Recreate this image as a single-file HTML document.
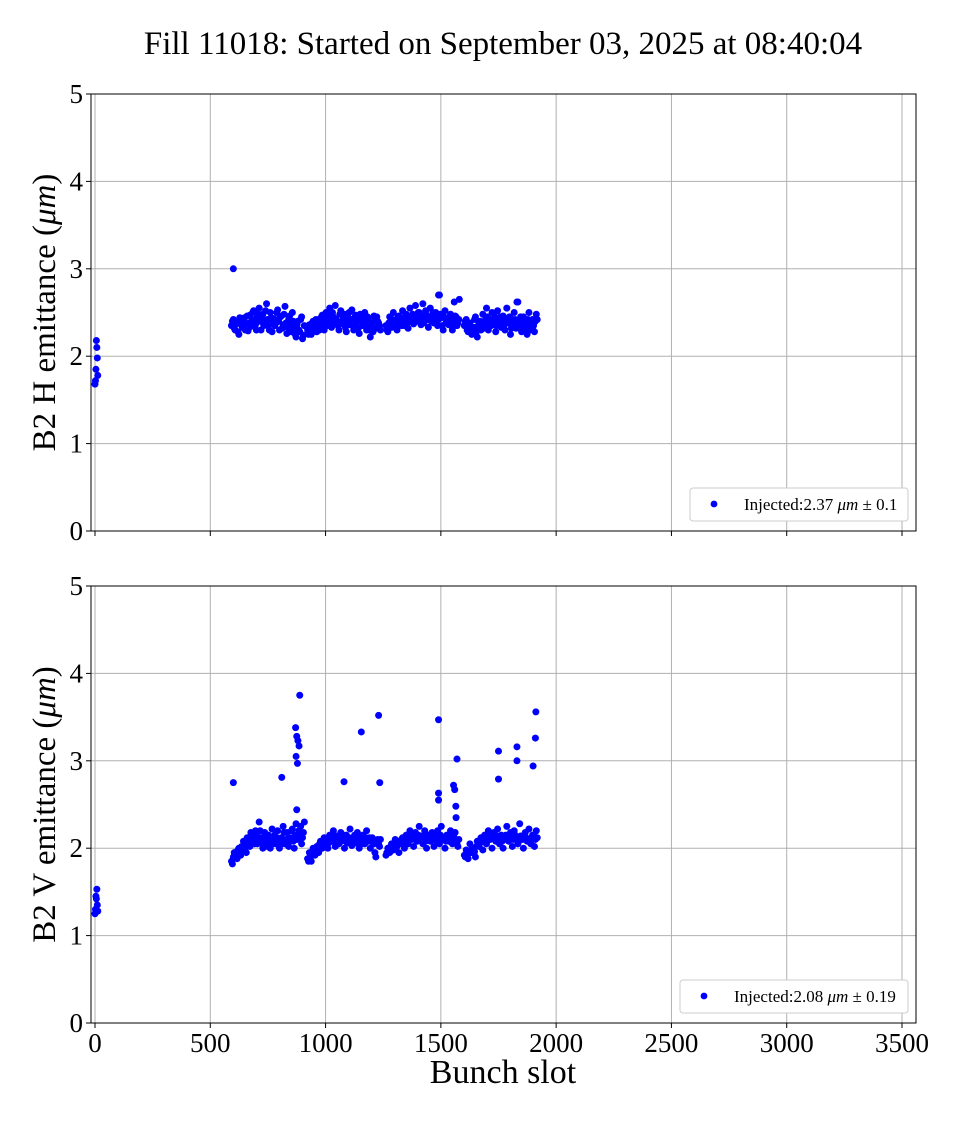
<!DOCTYPE html>
<html><head><meta charset="utf-8"><style>
body{margin:0;background:#fff}
svg text{font-family:"Liberation Serif",serif;fill:#000}
</style></head><body>
<svg id="chart" width="960" height="1120">
<text x="503" y="54" font-size="33" text-anchor="middle">Fill 11018: Started on September 03, 2025 at 08:40:04</text>
<g id="top"></g>
<g id="bot"></g>
<text x="503" y="1083" font-size="34" text-anchor="middle">Bunch slot</text>
</svg>
<script>
const xTicks=[0,500,1000,1500,2000,2500,3000,3500];
const yTicks=[0,1,2,3,4,5];
const trainStarts=[592,922,1262,1602];
const trainStep=8;
const hTrain1=[2.35,2.42,2.3,2.38,2.25,2.4,2.33,2.44,2.37,2.29,2.47,2.4,2.52,2.36,2.45,2.55,2.3,2.48,2.41,2.6,2.35,2.5,2.28,2.43,2.38,2.53,2.3,2.46,2.36,2.57,2.26,2.42,2.35,2.5,2.32,2.22,2.4,2.28,2.45,2.24];
const hTrain2=[2.3,2.36,2.25,2.4,2.33,2.28,2.42,2.35,2.47,2.3,2.5,2.38,2.55,2.33,2.45,2.58,2.4,2.3,2.52,2.37,2.48,2.28,2.44,2.36,2.53,2.3,2.47,2.4,2.26,2.45,2.35,2.5,2.3,2.42,2.22,2.38,2.46,2.32,2.4,2.35];
const hTrain3=[2.35,2.28,2.45,2.33,2.5,2.38,2.3,2.46,2.4,2.52,2.35,2.48,2.32,2.55,2.42,2.37,2.58,2.44,2.5,2.36,2.6,2.4,2.47,2.33,2.55,2.42,2.38,2.5,2.35,2.7,2.44,2.3,2.52,2.4,2.36,2.48,2.3,2.62,2.45,2.38];
const hTrain4=[2.35,2.42,2.28,2.38,2.25,2.33,2.45,2.22,2.38,2.3,2.48,2.35,2.55,2.3,2.42,2.5,2.36,2.28,2.52,2.4,2.33,2.46,2.3,2.55,2.38,2.25,2.42,2.5,2.32,2.62,2.36,2.28,2.45,2.38,2.25,2.5,2.32,2.42,2.28,2.48];
const hTrain1b=[2.4,2.32,2.37,2.28,2.44,2.35,2.4,2.3,2.46,2.38,2.34,2.5,2.42,2.3,2.48,2.4,2.45,2.35,2.52,2.42,2.3,2.44,2.38,2.35,2.5,2.4,2.45,2.32,2.48,2.38,2.33,2.46,2.28,2.4,2.25,2.36,2.3,2.42,2.2,2.35];
const hTrain2b=[2.25,2.32,2.38,2.3,2.42,2.35,2.3,2.45,2.38,2.42,2.35,2.46,2.4,2.5,2.38,2.42,2.35,2.48,2.4,2.45,2.33,2.4,2.5,2.42,2.35,2.44,2.38,2.32,2.48,2.4,2.44,2.36,2.45,2.3,2.35,2.28,2.4,2.45,2.38,2.3];
const hTrain3b=[2.3,2.38,2.35,2.42,2.4,2.32,2.45,2.38,2.35,2.44,2.42,2.38,2.46,2.4,2.48,2.45,2.4,2.5,2.42,2.46,2.38,2.52,2.42,2.45,2.4,2.5,2.45,2.4,2.42,2.48,2.35,2.45,2.38,2.42,2.45,2.35,2.4,2.46,2.35,2.42];
const hTrain4b=[2.4,2.3,2.35,2.32,2.3,2.42,2.28,2.35,2.4,2.36,2.32,2.42,2.45,2.38,2.35,2.42,2.45,2.35,2.4,2.45,2.38,2.35,2.42,2.4,2.45,2.32,2.38,2.42,2.4,2.35,2.45,2.4,2.32,2.35,2.42,2.3,2.38,2.35,2.4,2.42];
const vTrain1=[1.85,1.9,1.95,1.88,2.0,1.92,1.98,2.05,1.95,2.1,2.02,2.15,2.08,2.2,2.05,2.3,2.12,2.0,2.18,2.06,2.15,2.0,2.22,2.1,2.05,2.2,2.0,2.12,2.25,2.05,2.18,2.02,2.1,2.22,2.0,2.28,2.15,2.1,2.05,2.18];
const vTrain2=[1.88,1.95,1.85,2.0,1.92,2.02,1.95,2.08,2.0,2.12,2.05,2.0,2.15,2.08,2.2,2.02,2.12,2.05,2.18,2.1,2.0,2.15,2.08,2.22,2.03,2.12,2.06,2.18,2.0,2.1,2.15,2.05,2.2,2.08,2.0,2.12,2.05,1.9,2.1,2.02];
const vTrain3=[1.92,2.0,1.95,2.05,1.98,2.1,2.02,1.95,2.08,2.12,2.0,2.15,2.05,2.2,2.1,2.02,2.18,2.08,2.25,2.12,2.05,2.2,2.0,2.15,2.08,2.18,2.02,2.12,2.2,2.05,2.25,2.1,2.0,2.15,2.08,2.2,2.05,2.12,2.35,2.02];
const vTrain4=[1.92,1.98,1.88,2.05,1.95,2.0,1.9,2.08,2.02,2.12,1.98,2.15,2.05,2.2,2.1,2.0,2.18,2.08,2.22,2.05,2.15,2.0,2.12,2.25,2.08,2.18,2.02,2.2,2.1,2.05,2.28,2.12,2.0,2.18,2.08,2.22,2.05,2.15,2.02,2.2];
const vTrain1b=[1.82,1.95,1.9,1.98,1.93,2.02,2.08,2.0,2.12,2.05,2.18,2.1,2.05,2.15,2.1,2.2,2.05,2.1,2.12,2.02,2.1,2.08,2.05,2.15,2.12,2.08,2.1,2.05,2.18,2.1,2.05,2.12,2.2,2.08,2.15,2.1,2.2,2.25,2.12,2.3];
const vTrain2b=[1.85,1.9,1.92,1.96,2.0,1.98,2.05,2.02,2.06,2.08,2.1,2.06,2.1,2.12,2.08,2.14,2.1,2.1,2.08,2.15,2.12,2.06,2.12,2.1,2.08,2.15,2.1,2.12,2.08,2.05,2.1,2.12,2.08,2.12,2.1,2.06,1.95,2.08,2.05,2.1];
const vTrain3b=[1.95,1.98,2.02,2.0,2.06,2.03,2.08,2.05,2.1,2.06,2.12,2.08,2.1,2.12,2.15,2.1,2.12,2.15,2.1,2.14,2.12,2.08,2.15,2.1,2.12,2.1,2.15,2.08,2.12,2.15,2.1,2.12,2.08,2.1,2.12,2.15,2.1,2.18,2.05,2.1];
const vTrain4b=[1.9,1.95,1.94,1.98,2.0,1.96,2.02,2.05,2.06,2.08,2.1,2.06,2.12,2.1,2.15,2.12,2.1,2.14,2.12,2.1,2.08,2.12,2.15,2.1,2.12,2.14,2.1,2.15,2.12,2.08,2.14,2.1,2.15,2.12,2.1,2.08,2.12,2.15,2.1,2.12];
const hPilotSlots=[0,2,4,6,8,10,12];
const hPilotVals=[1.68,1.72,1.85,2.18,2.1,1.98,1.78];
const vPilotSlots=[0,2,4,6,8,10,12];
const vPilotVals=[1.25,1.3,1.45,1.42,1.53,1.35,1.28];
const hOutSlots=[600,1490,1580,1830];
const hOutVals=[3.0,2.7,2.65,2.62];
const vOutSlots=[600,810,870,875,880,872,885,888,878,875,1080,1155,1230,1235,1490,1490,1490,1555,1560,1570,1565,1750,1750,1830,1830,1900,1910,1912];
const vOutVals=[2.75,2.81,3.38,3.28,3.23,3.05,3.17,3.75,2.97,2.44,2.76,3.33,3.52,2.75,3.47,2.63,2.55,2.72,2.67,3.02,2.48,3.11,2.79,3.16,3.0,2.94,3.26,3.56];

const NS="http://www.w3.org/2000/svg";
const L=91,R=916;
const xs=v=>95+v*(902-95)/3500;
function mk(p,t,a){const e=document.createElementNS(NS,t);for(const k in a)e.setAttribute(k,a[k]);p.appendChild(e);return e;}
function panel(g,top,bot,trains,trainsB,pS,pV,oS,oV,ylab,legTxt,legX,showX){
  const ys=v=>bot-v*(bot-top)/5;
  yTicks.forEach(t=>{
    const l=mk(g,'line',{x1:L,x2:R,y1:ys(t),y2:ys(t),stroke:'#b0b0b0','stroke-width':1});
    
    
    const tk=mk(g,'line',{x1:L-5,x2:L,y1:ys(t),y2:ys(t),stroke:'#000'});
    
    
    const tx=mk(g,'text',{x:L-8,y:ys(t)+9,'font-size':27,'text-anchor':'end'});tx.textContent=t;
    
    
  });
  xTicks.forEach(t=>{
    const l=mk(g,'line',{x1:xs(t),x2:xs(t),y1:top,y2:bot,stroke:'#b0b0b0','stroke-width':1});
    
    
    const tk=mk(g,'line',{x1:xs(t),x2:xs(t),y1:bot,y2:bot+5,stroke:'#000'});
    
    
    if(showX){const tx=mk(g,'text',{x:xs(t),y:bot+29,'font-size':27,'text-anchor':'middle'});tx.textContent=t;
      
      }
  });
  const fr=mk(g,'rect',{x:L,y:top,width:R-L,height:bot-top,fill:'none',stroke:'#000','stroke-width':1});
  
  
  const dot=(s,v)=>{const c=mk(g,'circle',{cx:xs(s),cy:ys(v),r:3.5,fill:'#0000ff'});
    
    };
  trains.forEach((arr,i)=>arr.forEach((v,j)=>dot(trainStarts[i]+j*trainStep,v)));
  trainsB.forEach((arr,i)=>arr.forEach((v,j)=>dot(trainStarts[i]+4+j*trainStep,v)));
  pS.forEach((s,i)=>dot(s,pV[i]));
  oS.forEach((s,i)=>dot(s,oV[i]));
  const yl=mk(g,'text',{x:0,y:0,'font-size':33,'text-anchor':'middle',transform:`translate(55,${(top+bot)/2}) rotate(-90)`});
  yl.innerHTML=ylab;
  
  
  const lg=mk(g,'g',{});
  
  
  mk(lg,'rect',{x:legX,y:bot-43,width:908-legX,height:33,rx:3,fill:'#fff',stroke:'#ccc'});
  mk(lg,'circle',{cx:legX+24,cy:bot-27,r:3.4,fill:'#0000ff'});
  const lt=mk(lg,'text',{x:legX+54,y:bot-21,'font-size':17});lt.innerHTML=legTxt;
}
panel(document.getElementById('top'),94,531,[hTrain1,hTrain2,hTrain3,hTrain4],[hTrain1b,hTrain2b,hTrain3b,hTrain4b],hPilotSlots,hPilotVals,hOutSlots,hOutVals,
 'B2 H emittance (<tspan font-style="italic">μm</tspan>)','Injected:2.37 <tspan font-style="italic">μm</tspan> ± 0.1',690,false);
panel(document.getElementById('bot'),586,1023,[vTrain1,vTrain2,vTrain3,vTrain4],[vTrain1b,vTrain2b,vTrain3b,vTrain4b],vPilotSlots,vPilotVals,vOutSlots,vOutVals,
 'B2 V emittance (<tspan font-style="italic">μm</tspan>)','Injected:2.08 <tspan font-style="italic">μm</tspan> ± 0.19',680,true);
</script>
</body></html>
